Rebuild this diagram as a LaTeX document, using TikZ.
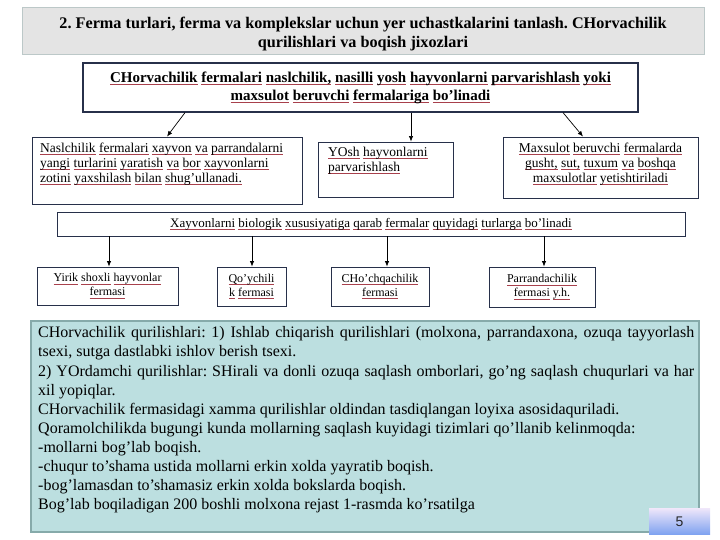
\documentclass[tikz,border=0pt]{standalone}
\usepackage{fontspec}
\setmainfont{Liberation Serif}
\newfontfamily\numfont{Liberation Sans}
\usetikzlibrary{arrows.meta,calc}
\definecolor{navy}{HTML}{27304A}
\definecolor{titlefill}{HTML}{E4E4E4}
\definecolor{titledraw}{HTML}{BCC8C8}
\definecolor{tealfill}{HTML}{BCDFE0}
\definecolor{tealdraw}{HTML}{86AAAA}
\definecolor{ulred}{HTML}{A8404C}
\definecolor{pgtop}{HTML}{EEE6FA}
\definecolor{pgbot}{HTML}{7EA2F0}
\setlength\parindent{0pt}
\hyphenpenalty=10000
\exhyphenpenalty=10000
\frenchspacing
% spell-check style underline of single words
\newcommand\ulw[1]{\setbox0\hbox{#1}\rlap{\textcolor{ulred}{\rule[-2.4pt]{\wd0}{0.7pt}}}\box0}
\def\ulwords#1{\ulwordsA#1 \ulend}
\def\ulwordsA#1 #2\ulend{\ulw{#1}\ifx\relax#2\relax\else\ \ulwordsA#2\ulend\fi}
\begin{document}
\begin{tikzpicture}[x=1pt,y=-1pt,
  box/.style={draw=navy, line width=0.9pt, fill=white, inner sep=0pt},
  txt/.style={inner sep=0pt, font=\fontsize{13.5}{15.2}\selectfont},
  small/.style={box, align=center, font=\fontsize{12}{14}\selectfont},
  arr/.style={-{Latex[length=5.5pt,width=4.5pt]}, line width=0.7pt, black},
]
\path[use as bounding box] (0,0) rectangle (720,540);

% title
\node[draw=titledraw, fill=titlefill, line width=1pt, inner sep=0pt,
      minimum width=682pt, minimum height=47pt] (title) at (363,31.5) {};
\node[inner sep=0pt, align=center, font=\bfseries\fontsize{16.2}{19.5}\selectfont]
  (titlet) at (363,34) {2. Ferma turlari, ferma va komplekslar uchun yer uchastkalarini tanlash. CHorvachilik\\qurilishlari va boqish jixozlari};

% main box
\node[box, line width=1.2pt, minimum width=555pt, minimum height=49pt, align=center,
      font=\bfseries\fontsize{15}{18}\selectfont] (b2) at (360.5,87.5)
  {\ulwords{CHorvachilik fermalari naslchilik, nasilli yosh hayvonlarni parvarishlash yoki}\\\ulwords{maxsulot beruvchi fermalariga bo’linadi}};

% second row
\node[box, minimum width=270pt, minimum height=67pt] (nas) at (167,170.5) {};
\node[txt, anchor=north west, align=left] (nast) at (40,142.5)
  {\ulwords{Naslchilik fermalari xayvon va parrandalarni}\\\ulwords{yangi turlarini yaratish va bor xayvonlarni}\\\ulwords{zotini yaxshilash bilan shug’ullanadi.}};

\node[box, minimum width=135pt, minimum height=55pt] (yosh) at (385.5,169.5) {};
\node[txt, anchor=north west, align=left] (yosht) at (328,146.5)
  {\ulwords{YOsh hayvonlarni}\\\ulwords{parvarishlash}};

\node[box, minimum width=195pt, minimum height=61pt] (max) at (600.5,167.5) {};
\node[txt, anchor=north, align=center] (maxt) at (600.5,142.5)
  {\ulwords{Maxsulot beruvchi fermalarda}\\\ulwords{gusht, sut, tuxum va boshqa}\\\ulwords{maxsulotlar yetishtiriladi}};

% classification bar
\node[box, minimum width=628pt, minimum height=24pt, font=\fontsize{13}{15}\selectfont] (xay) at (371,224)
  {\ulwords{Xayvonlarni biologik xususiyatiga qarab fermalar quyidagi turlarga bo’linadi}};

% small boxes
\node[small, minimum width=141pt, minimum height=38pt] (yir) at (107.5,286) {\ulwords{Yirik shoxli hayvonlar}\\\ulwords{fermasi}};
\node[small, minimum width=69pt, minimum height=39pt] (qoy) at (251.5,286.5) {\ulwords{Qo’ychili}\\\ulwords{k fermasi}};
\node[small, minimum width=98pt, minimum height=39pt] (cho) at (380,286.5) {\ulwords{CHo’chqachilik}\\\ulwords{fermasi}};
\node[small, minimum width=106pt, minimum height=40pt] (par) at (542,287) {\ulwords{Parrandachilik}\\\ulwords{fermasi y.h.}};

% arrows
\draw[arr] (b2.south -| 185,0) -- (nas.north -| 167,0);
\draw[arr] (b2.south -| 411,0) -- (yosh.north -| 411,0);
\draw[arr] (b2.south -| 563,0) -- (max.north -| 583,0);
\draw[arr] (xay.south -| 109,0) -- (yir.north -| 109,0);
\draw[arr] (xay.south -| 252,0) -- (qoy.north -| 252,0);
\draw[arr] (xay.south -| 387,0) -- (cho.north -| 387,0);
\draw[arr] (xay.south -| 544,0) -- (par.north -| 544,0);

% info box
\node[draw=tealdraw, fill=tealfill, line width=1.5pt, inner sep=0pt,
      minimum width=668pt, minimum height=211pt] (info) at (365,426.5) {};
\node[anchor=north west, inner sep=0pt, text width=656pt, align=justify,
      font=\fontsize{16}{19.1}\selectfont] (infot) at (38,326.5)
  {CHorvachilik qurilishlari: 1) Ishlab chiqarish qurilishlari (molxona, parrandaxona, ozuqa tayyorlash\linebreak
   tsexi, sutga dastlabki ishlov berish tsexi.\\
   2) YOrdamchi qurilishlar: SHirali va donli ozuqa saqlash omborlari, go’ng saqlash chuqurlari va har\linebreak
   xil yopiqlar.\\
   CHorvachilik fermasidagi xamma qurilishlar oldindan tasdiqlangan loyixa asosidaquriladi.\\
   Qoramolchilikda bugungi kunda mollarning saqlash kuyidagi tizimlari qo’llanib kelinmoqda:\\
   -mollarni bog’lab boqish.\\
   -chuqur to’shama ustida mollarni erkin xolda yayratib boqish.\\
   -bog’lamasdan to’shamasiz erkin xolda bokslarda boqish.\\
   Bog’lab boqiladigan 200 boshli molxona rejast 1-rasmda ko’rsatilga};

% page number
\node[top color=pgtop, bottom color=pgbot, minimum width=61pt, minimum height=26pt,
      inner sep=0pt, font=\numfont\fontsize{14}{14}\selectfont, text=black!85] (pg) at (679.5,521.5) {5};
\end{tikzpicture}
\end{document}
